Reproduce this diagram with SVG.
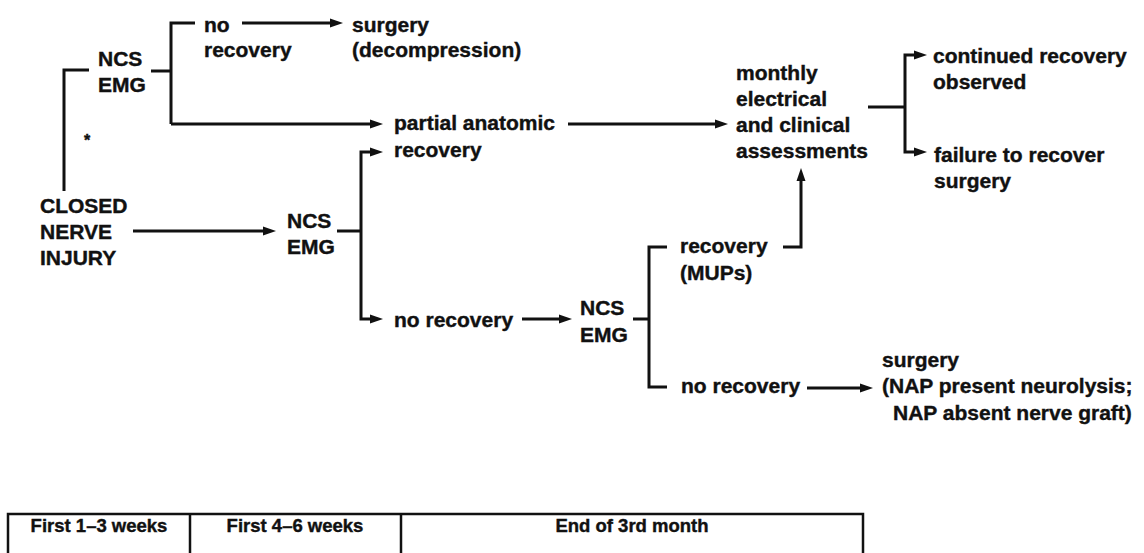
<svg xmlns="http://www.w3.org/2000/svg" width="1144" height="553" viewBox="0 0 1144 553">
  <style>
    text { font-family: "Liberation Sans", Arial, Helvetica, sans-serif; font-weight: bold; font-size: 21px; fill: #111; stroke: #111; stroke-width: 0.4; }
    .cell { font-size: 18.5px; text-anchor: middle; }
    .star { font-size: 16px; }
    .wire { fill: none; stroke: #111; stroke-width: 3; stroke-linecap: butt; stroke-linejoin: miter; }
    .arrow { marker-end: url(#head); }
    .grid { fill: none; stroke: #111; stroke-width: 2.5; }
  </style>
  <defs>
    <marker id="head" markerUnits="userSpaceOnUse" markerWidth="14" markerHeight="10" refX="3" refY="4.5" orient="auto" overflow="visible">
      <path d="M0,0 L13,4.5 L0,9 Z" fill="#111"/>
    </marker>
  </defs>
  <rect width="1144" height="553" fill="#fff"/>

  <!-- connectors -->
  <g id="connectors">
    <!-- injury to early NCS/EMG -->
    <path class="wire" d="M64,191 V70 H89"/>
    <!-- early NCS/EMG split -->
    <path class="wire" d="M151,71 H171"/>
    <path class="wire" d="M195,23 H171 V124"/>
    <path class="wire arrow" d="M171,124 H373"/>
    <path class="wire arrow" d="M242,23 H333"/>
    <!-- injury to 4-6 week NCS/EMG -->
    <path class="wire arrow" d="M133,231 H266"/>
    <path class="wire" d="M337,231 H361"/>
    <path class="wire arrow" d="M361,231 V152 H373"/>
    <path class="wire arrow" d="M361,231 V319 H373"/>
    <!-- partial recovery to monthly assessments -->
    <path class="wire arrow" d="M568,124 H718"/>
    <!-- no recovery to 3rd month NCS/EMG -->
    <path class="wire arrow" d="M522,319 H562"/>
    <path class="wire" d="M633,319 H649"/>
    <path class="wire" d="M667,247 H649 V387 H667"/>
    <!-- MUPs recovery up to assessments -->
    <path class="wire arrow" d="M783,247 H801 V178"/>
    <!-- no recovery to surgery -->
    <path class="wire arrow" d="M807,388 H863"/>
    <!-- assessments outcome split -->
    <path class="wire" d="M868,107 H905"/>
    <path class="wire arrow" d="M905,107 V55 H917"/>
    <path class="wire arrow" d="M905,107 V152 H917"/>
  </g>

  <g id="injury">
    <text x="40" y="213">CLOSED</text>
    <text x="40" y="239">NERVE</text>
    <text x="40" y="265">INJURY</text>
  </g>
  <g id="star">
    <text class="star" x="84" y="146">*</text>
  </g>
  <g id="ncs-early">
    <text x="98" y="66">NCS</text>
    <text x="98" y="92">EMG</text>
  </g>
  <g id="no-recovery-early">
    <text x="204" y="32">no</text>
    <text x="204" y="57">recovery</text>
  </g>
  <g id="decompression">
    <text x="352" y="32">surgery</text>
    <text x="352" y="57">(decompression)</text>
  </g>
  <g id="ncs-mid">
    <text x="287" y="228">NCS</text>
    <text x="287" y="254">EMG</text>
  </g>
  <g id="partial-recovery">
    <text x="394" y="130">partial anatomic</text>
    <text x="394" y="157">recovery</text>
  </g>
  <g id="no-recovery-mid">
    <text x="394" y="327">no recovery</text>
  </g>
  <g id="ncs-late">
    <text x="580" y="315">NCS</text>
    <text x="580" y="342">EMG</text>
  </g>
  <g id="recovery-mups">
    <text x="680" y="253">recovery</text>
    <text x="680" y="280">(MUPs)</text>
  </g>
  <g id="no-recovery-late">
    <text x="681" y="393">no recovery</text>
  </g>
  <g id="assessments">
    <text x="736" y="80">monthly</text>
    <text x="736" y="106">electrical</text>
    <text x="736" y="132">and clinical</text>
    <text x="736" y="158">assessments</text>
  </g>
  <g id="continued">
    <text x="933" y="63">continued recovery</text>
    <text x="933" y="89">observed</text>
  </g>
  <g id="failure">
    <text x="934" y="162">failure to recover</text>
    <text x="934" y="188">surgery</text>
  </g>
  <g id="nap-surgery">
    <text x="882" y="367">surgery</text>
    <text x="882" y="393">(NAP present neurolysis;</text>
    <text x="893" y="420">NAP absent nerve graft)</text>
  </g>

  <g id="timeline">
    <rect class="grid" x="8" y="514" width="855" height="60"/>
    <line class="grid" x1="190" y1="514" x2="190" y2="553"/>
    <line class="grid" x1="401" y1="514" x2="401" y2="553"/>
    <text class="cell" x="99" y="532">First 1–3 weeks</text>
    <text class="cell" x="295" y="532">First 4–6 weeks</text>
    <text class="cell" x="632" y="532">End of 3rd month</text>
  </g>
</svg>
